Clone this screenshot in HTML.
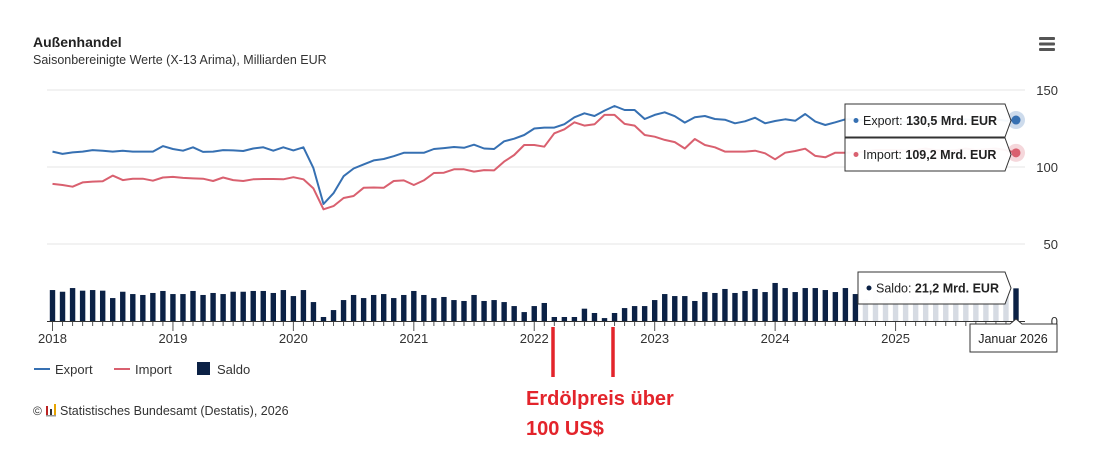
<!DOCTYPE html>
<html><head><meta charset="utf-8">
<style>
body{margin:0;background:#fff;font-family:"Liberation Sans",sans-serif;}
#wrap{position:relative;width:1101px;height:465px;overflow:hidden;}
svg text{font-family:"Liberation Sans",sans-serif;}
</style></head><body>
<div id="wrap">
<svg id="chart" width="1101" height="465"></svg>
</div>
<script>
const categories=[];for(let y=2018;y<=2026;y++){for(let m=1;m<=12;m++){if(y===2026&&m>1)break;categories.push(y+'-'+m);}}
const exportValues=[110,108.5,109.5,110,111,110.5,110,110.5,110,110,110,113.6,
111.7,110.6,112.8,109.8,110,111,110.8,110.4,112,112.8,110.6,112.8,
110.8,112.8,99.3,76,83,94,99,101.7,104.3,105.2,107,109.2,
109.2,109.2,111.7,112.3,113,112.5,114.5,112,111.7,116.7,118.4,120.8,
125,125.6,125.6,127.8,132.3,134.9,133.1,136.6,139.6,137,137,131.2,
133.8,135.5,133,128.8,132.3,133.1,131.2,130.7,128.4,129.7,132,128.4,
129.9,131,130,134.4,129.5,127.3,129,131,131,130,130,130,
130,129,131,130,129,131,130,131,130,129,131,130,130.5];
const importValues=[89,88.3,87.2,90,90.5,90.7,94.4,91.5,92.4,92.4,91.1,93.2,
93.6,92.9,92.6,92.4,90.9,93.2,91.5,90.9,92,92.2,92.2,92,
93.4,92,86.1,72.5,74.6,79.9,81.2,86.5,86.7,86.5,90.9,91.3,
88.3,91.3,96.1,96.3,98.5,98.5,97,98,97.8,103.5,107.8,114.3,
114.3,113.2,121.9,124.5,129,126.9,127.7,133.8,133.8,128,126.9,120.8,
119.7,117.6,116.2,112,118.2,114.3,112.8,110,110,110,110.6,108.9,
105,109.3,110.4,111.9,107.2,106.3,109.3,109.3,109.5,110,111,111,
111,110.5,111,112,111,110.5,111,112,111,111.5,112,111,109.2];
const saldoValues=[20.1,19,21.4,19.7,20.1,19.7,14.9,19,17.5,16.9,18.2,19.5,
17.5,17.5,19.5,16.9,18.2,17.5,19,19,19.5,19.5,18.2,20.1,
16.2,20.1,12.3,2.6,7.1,13.6,16.9,14.9,16.9,17.5,14.9,16.9,
19.5,16.9,14.9,15.6,13.6,13,16.9,13,13.6,12.3,9.7,5.8,
9.7,11.7,2.6,2.6,2.6,8,5.2,1.9,5.2,8.4,9.7,9.7,
13.6,17.5,16.2,16.2,13,18.8,18.2,20.8,18.2,19.5,20.8,18.8,
24.7,21.4,18.8,21.4,21.4,20.1,18.8,21.4,17.5,14.3,19.5,15.4,
16.9,18.6,16.2,18.6,15.4,16.2,16.9,14.9,16.9,13.6,16.9,18,21.2];
const yTicks=[0,50,100,150];
const xTickLabels=['2018','2019','2020','2021','2022','2023','2024','2025'];

const NS='http://www.w3.org/2000/svg';
const svg=document.getElementById('chart');
function el(tag,attrs,parent){const e=document.createElementNS(NS,tag);for(const k in attrs)e.setAttribute(k,attrs[k]);(parent||svg).appendChild(e);return e;}
const x0=52.5,x1=1016,n=categories.length;
const xs=i=>x0+(x1-x0)*i/(n-1);
const ys=v=>321-v*1.54;

// title
let t=el('text',{x:33,y:47,'font-size':14,'font-weight':'bold',fill:'#222'});t.textContent='Außenhandel';


t=el('text',{x:33,y:64,'font-size':12.5,fill:'#333'});t.textContent='Saisonbereinigte Werte (X-13 Arima), Milliarden EUR';


// menu icon
const menu=el('g',{});


for(let k=0;k<3;k++)el('rect',{x:1039,y:37+k*5.5,width:16,height:3,rx:1,fill:'#555'},menu);

// grid
yTicks.forEach(v=>{
  if(v>0){const g=el('line',{x1:47,x2:1025,y1:ys(v),y2:ys(v),stroke:'#eeeeee','stroke-width':1.5});
  
  }
  const tt=el('text',{x:1058,y:ys(v)+5,'font-size':13,fill:'#333','text-anchor':'end'});tt.textContent=v;
  
  
});

// bars
saldoValues.forEach((v,i)=>{
  const faded=i>=81&&i<n-1;
  const b=el('rect',{x:xs(i)-2.7,y:ys(v),width:5.4,height:321-ys(v),fill:faded?'#d6dbe3':'#0b2145'});
  
  
});
// axis
el('line',{x1:47,x2:1025,y1:321.5,y2:321.5,stroke:'#333','stroke-width':1});
for(let i=0;i<n;i++){el('line',{x1:xs(i),x2:xs(i),y1:322,y2:i%12===0?331:326,stroke:'#555','stroke-width':1});}
xTickLabels.forEach((l,k)=>{const tt=el('text',{x:xs(k*12),y:343,'font-size':13,fill:'#333','text-anchor':'middle'});tt.textContent=l;
  
  });

function line(vals,color,name){
  const d=vals.map((v,i)=>(i?'L':'M')+xs(i).toFixed(1)+','+ys(v).toFixed(1)).join('');
  const p=el('path',{d:d,fill:'none',stroke:color,'stroke-width':2,'stroke-linejoin':'round'});
  
  
}
line(exportValues,'#3670b2','export-line');
line(importValues,'#d9606f','import-line');

// hover markers
const L=n-1;
el('circle',{cx:xs(L),cy:ys(exportValues[L]),r:9,fill:'#3670b2','fill-opacity':0.25});
el('circle',{cx:xs(L),cy:ys(exportValues[L]),r:4.5,fill:'#3670b2'});
el('circle',{cx:xs(L),cy:ys(importValues[L]),r:9,fill:'#d9606f','fill-opacity':0.25});
el('circle',{cx:xs(L),cy:ys(importValues[L]),r:4.5,fill:'#d9606f'});

function tip(x,y,w,h,color,label,val,name){
  const g=el('g',{});
  
  
  el('path',{d:`M${x},${y}h${w}l6,${h/2}l-6,${h/2}h${-w}z`,fill:'#fff','fill-opacity':0.95,stroke:'#333','stroke-width':1},g);
  el('circle',{cx:x+11,cy:y+h/2,r:2.5,fill:color},g);
  const tx=el('text',{x:x+18,y:y+h/2+4.5,'font-size':12.5,fill:'#222'},g);
  tx.innerHTML=label+': <tspan font-weight="bold">'+val+'</tspan>';
}
tip(845,104,160,33,'#3670b2','Export','130,5 Mrd. EUR','export-tooltip');
tip(845,138,160,33,'#d9606f','Import','109,2 Mrd. EUR','import-tooltip');
tip(858,272,147,32,'#0b2145','Saldo','21,2 Mrd. EUR','saldo-tooltip');
// date label
const dl=el('g',{});


el('path',{d:'M970,324h40l6,-5l6,5h35v28h-87z',fill:'#fff',stroke:'#333','stroke-width':1},dl);
t=el('text',{x:1013,y:343,'font-size':12.5,fill:'#222','text-anchor':'middle'},dl);t.textContent='Januar 2026';

// legend
function leg(x,color,label,isBar){
  const g=el('g',{});
  
  
  if(isBar)el('rect',{x:x,y:362,width:13,height:13,fill:color},g);
  else el('line',{x1:x,x2:x+16,y1:369,y2:369,stroke:color,'stroke-width':2},g);
  const tt=el('text',{x:x+(isBar?20:21),y:374,'font-size':13,fill:'#333'},g);tt.textContent=label;
}
leg(34,'#3670b2','Export');leg(114,'#d9606f','Import');leg(197,'#0b2145','Saldo',true);

// credits
const cr=el('g',{});


t=el('text',{x:33,y:415,'font-size':12,fill:'#333'},cr);t.textContent='©';
el('rect',{x:46,y:406,width:2,height:9,fill:'#b22'},cr);el('rect',{x:50,y:409,width:2,height:6,fill:'#333'},cr);el('rect',{x:54,y:404,width:2,height:11,fill:'#e8a400'},cr);el('rect',{x:46,y:415,width:10,height:1.5,fill:'#999'},cr);
t=el('text',{x:60,y:415,'font-size':12.5,fill:'#333'},cr);t.textContent='Statistisches Bundesamt (Destatis), 2026';

// annotations
[553,613].forEach((x,k)=>{const a=el('line',{x1:x,x2:x,y1:327,y2:377,stroke:'#e3242b','stroke-width':3.5});
  
  });
t=el('text',{x:526,y:405,'font-size':20,'font-weight':'bold',fill:'#e3242b'});t.textContent='Erdölpreis über';


t=el('text',{x:526,y:435,'font-size':20,'font-weight':'bold',fill:'#e3242b'});t.textContent='100 US$';


</script>
</body></html>
